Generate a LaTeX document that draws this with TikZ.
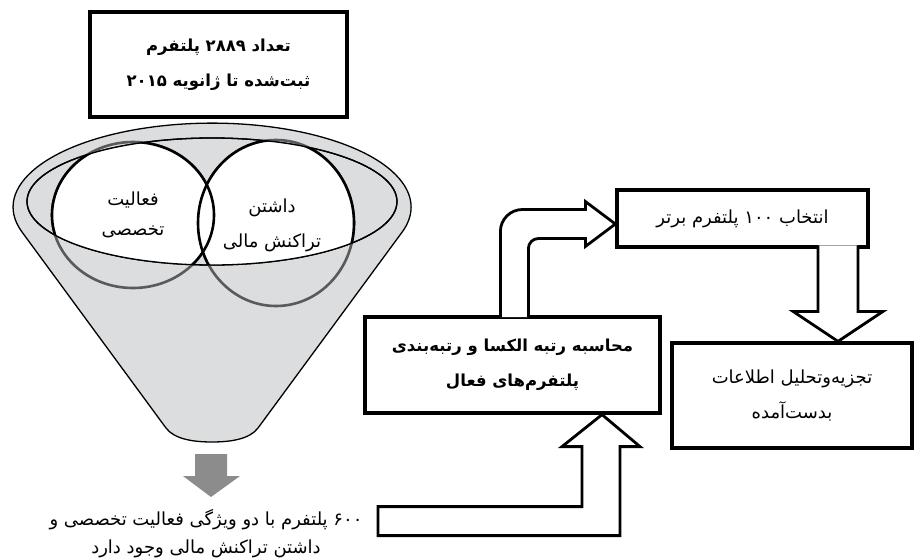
\documentclass[tikz,border=0pt]{standalone}
\usepackage{fontspec}
\usepackage{tikz}
\usetikzlibrary{calc}
\newfontfamily\arabicfont[Script=Arabic]{DejaVu Sans}
\TeXXeTstate=1
\newcommand{\rl}[1]{\beginR #1\endR}
\definecolor{funnelgray}{HTML}{DCDDDF}
\definecolor{arrowgray}{HTML}{8C8C8C}
\definecolor{ringgray}{HTML}{5A5A5A}

\begin{document}
\begin{tikzpicture}[
  x=1pt,y=-1pt,
  font=\arabicfont\fontsize{18}{35}\selectfont,
  box/.style={draw,line width=3.2pt,fill=white,align=center,inner sep=0pt},
  boldbox/.style={box,font=\arabicfont\bfseries\fontsize{16.5}{35}\selectfont},
  fat/.style={draw,line width=2.8pt,line join=miter,fill=white},
  rim/.style={draw,line width=1.3pt},
  ring/.style={line width=2.6pt},
  lab/.style={align=center,inner sep=0pt}
]
\useasboundingbox (0,0) rectangle (917,559);
% funnel with the two overlapping sets
\coordinate (fl) at (21.8,231.7);
\filldraw[rim,fill=funnelgray] (fl) arc[start angle=163,end angle=377,x radius=199,y radius=84]
  -- (258,428) .. controls (249.7,439.3) and (230,442) .. (212,442)
  .. controls (194,442) and (174.3,439.3) .. (166,428) -- cycle;
\draw[rim] (212,201.5) ellipse[x radius=185,y radius=63.5];
\draw[ring,draw=ringgray] (133,215) ellipse[x radius=81,y radius=73];
\draw[ring,draw=ringgray] (276,223) ellipse[x radius=78,y radius=83];
\begin{scope}
  \clip (212,201.5) ellipse[x radius=185,y radius=63.5];
  \fill[white] (133,215) ellipse[x radius=81,y radius=73] (276,223) ellipse[x radius=78,y radius=83];
  \draw[ring] (133,215) ellipse[x radius=81,y radius=73];
  \draw[ring] (276,223) ellipse[x radius=78,y radius=83];
\end{scope}
\draw[rim] (212,201.5) ellipse[x radius=185,y radius=63.5];
\node[lab,font=\arabicfont\fontsize{18}{30}\selectfont] (spec) at (133,215) {\rl{فعالیت}\\\rl{تخصصی}};
\node[lab] (trans) at (272,225.5) {\rl{داشتن}\\\rl{تراکنش مالی}};

\node[boldbox,minimum width=257,minimum height=105] (total) at (218.5,64.5)
  {\rl{تعداد ۲۸۸۹ پلتفرم}\\\rl{ثبت^^^^200cشده تا ژانویه ۲۰۱۵}};
\node[lab,font=\arabicfont\fontsize{18}{28}\selectfont] (count) at (206,534)
  {\rl{۶۰۰ پلتفرم با دو ویژگی فعالیت تخصصی و}\\\rl{داشتن تراکنش مالی وجود دارد}};
\node[boldbox,minimum width=295,minimum height=96] (rank) at (512.5,365)
  {\rl{محاسبه رتبه الکسا و رتبه^^^^200cبندی}\\\rl{پلتفرم^^^^200cهای فعال}};
\node[box,minimum width=251,minimum height=57] (sel) at (742.5,218.5)
  {\rl{انتخاب ۱۰۰ پلتفرم برتر}};
\node[box,minimum width=240,minimum height=105] (ana) at (792,395.5)
  {\rl{تجزیه^^^^200cوتحلیل اطلاعات}\\\rl{بدست^^^^200cآمده}};

% block arrows, drawn around their tips
\coordinate (gtip) at (211,497);
\fill[arrowgray,shift={(gtip)}] (-16,-43) -- (16,-43) -- (16,-21) -- (29,-21) -- (0,0)
  -- (-28,-21) -- (-16,-21) -- cycle;
\coordinate (uptip) at ([xshift=89.5pt]rank.south);
\filldraw[fat,shift={(uptip)}] (-224,92) -- (-20,92) -- (-20,32) -- (-40,32) -- (0,0)
  -- (38,32) -- (18,32) -- (18,121) -- (-224,121) -- cycle;
\coordinate (rtip) at ([yshift=-5.5pt]sel.west);
\filldraw[fat,shift={(rtip)}] (-115,93) -- (-115,7.5) arc[start angle=180,end angle=270,radius=22]
  -- (-30,-14.5) -- (-30,-22.5) -- (0,0) -- (-30,22.5) -- (-30,14.5) -- (-77,14.5)
  arc[start angle=270,end angle=180,radius=10] -- (-87,93);
\coordinate (dtip) at ([xshift=46pt]ana.north);
\filldraw[fat,shift={(dtip)}] (-20,-96) -- (-20,-30) -- (-45,-30) -- (0,0) -- (45,-30)
  -- (20,-30) -- (20,-96);
\end{tikzpicture}
\end{document}
